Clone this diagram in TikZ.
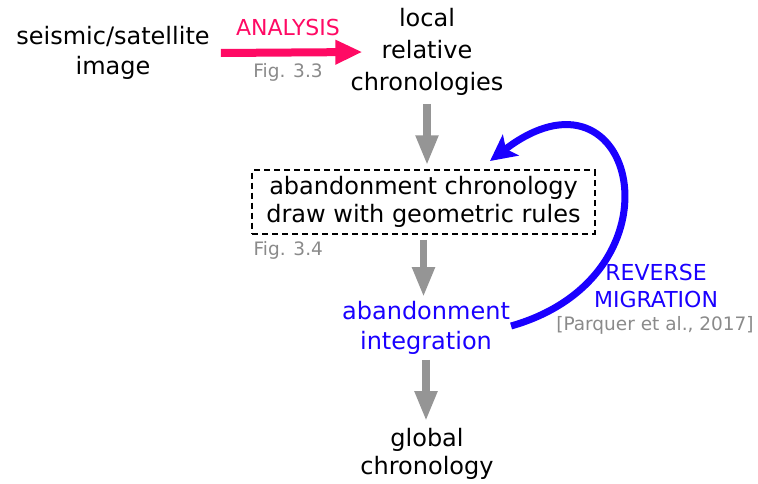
\documentclass[tikz,border=0pt]{standalone}
\usepackage{fontspec}
\setmainfont{DejaVu Sans}
\definecolor{AnaPink}{HTML}{FF0A64}
\definecolor{RevBlue}{HTML}{1A00FF}
\definecolor{FigGray}{HTML}{8A8A8A}
\definecolor{FlowGray}{HTML}{959595}
\usetikzlibrary{arrows.meta, positioning, calc}

\begin{document}
\begin{tikzpicture}[x=1pt, y=-1pt, >=Stealth,
    txt/.style={inner sep=0pt, align=center, font=\fontsize{24}{30}\selectfont},
    figref/.style={inner sep=0pt, text=FigGray, font=\fontsize{18.5}{22}\selectfont},
    flow/.style={draw=FlowGray, line width=7.5pt, -{Triangle[length=30pt, width=21pt]}},
    chronobox/.style={txt, draw, dashed, line width=2pt, dash pattern=on 6pt off 4pt,
      inner xsep=14pt, inner ysep=6pt, font=\fontsize{24}{28}\selectfont}]
  \useasboundingbox (0,0) rectangle (758,484);
  % Nodes
  \node[txt] (src) at (113,53) {seismic/satellite\\image};
  \node[txt, font=\fontsize{24}{32}\selectfont] (loc) at (427,52) {local\\relative\\chronologies};
  \node[chronobox] (box) at (423.5,202) {abandonment chronology\\draw with geometric rules};
  \node[txt, text=RevBlue] (aband) at (426,328) {abandonment\\integration};
  \node[txt, font=\fontsize{24}{28}\selectfont] (glob) at (427,454) {global\\chronology};
  % Labels
  \node[inner sep=0pt, text=AnaPink, font=\fontsize{22}{26}\selectfont] (ana) at (288,27) {ANALYSIS};
  \node[figref] (fig33) at (288,72) {Fig. 3.3};
  \node[figref, anchor=north west] (fig34) at ([xshift=2pt, yshift=-7pt]box.south west) {Fig. 3.4};
  \node[inner sep=0pt, align=center, text=RevBlue, font=\fontsize{22}{27}\selectfont] (rev) at (656,286) {REVERSE\\MIGRATION};
  \node[figref] (parq) at (655,325) {[Parquer et al., 2017]};
  % Analysis arrow
  \draw[AnaPink, line width=8pt, -{Triangle[length=27pt, width=23pt]}]
    ([xshift=11pt]src.east) -- ([xshift=12pt]loc.west);
  % Flow arrows
  \draw[flow, shorten <=8pt, shorten >=4pt] (loc.south) -- (loc.south |- box.north);
  \draw[flow, shorten <=5pt, shorten >=4pt] (box.south) -- (box.south |- aband.north);
  \draw[flow, shorten <=5pt, shorten >=7pt] (aband.south) -- (aband.south |- glob.north);
  % Reverse migration
  \coordinate (revtip) at (490,161);
  \draw[RevBlue, line width=7pt, -{Stealth[length=26pt, width=26pt, inset=6pt]}]
    ([xshift=1pt, yshift=2pt]aband.east) .. controls (690,275) and (635,50) .. (revtip);
\end{tikzpicture}
\end{document}
